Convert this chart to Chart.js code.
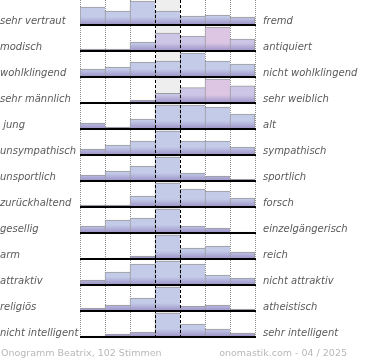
<!DOCTYPE html>
<html>
<head>
<meta charset="utf-8">
<script src="https://cdn.jsdelivr.net/npm/chart.js@4/dist/chart.umd.min.js"></script>
<style>
  html, body { margin: 0; padding: 0; background: #fff; }
</style>
</head>
<body>
<canvas id="chart" width="370" height="360"></canvas>
<script>
// scale steps 1..7 between the two poles
const steps = ['1', '2', '3', '4', '5', '6', '7'];

const leftLabels = ['sehr vertraut', 'modisch', 'wohlklingend', 'sehr männlich', ' jung', 'unsympathisch',
  'unsportlich', 'zurückhaltend', 'gesellig', 'arm', 'attraktiv', 'religiös', 'nicht intelligent'];
const rightLabels = ['fremd', 'antiquiert', 'nicht wohlklingend', 'sehr weiblich', 'alt', 'sympathisch',
  'sportlich', 'forsch', 'einzelgängerisch', 'reich', 'nicht attraktiv', 'atheistisch', 'sehr intelligent'];

// relative share of votes per step (each row is scaled to its own maximum)
const vertraut    = [18, 14, 24, 14, 9, 10, 8];
const modisch     = [2, 2, 9, 18, 15, 24, 12];
const klang       = [8, 10, 15, 16, 24, 16, 13];
const maennlich   = [0, 0, 3, 10, 16, 25, 18];
const jung        = [6, 2, 10, 24, 24, 22, 15];
const sympathisch = [6, 10, 14, 24, 14, 14, 8];
const sportlich   = [6, 10, 15, 24, 8, 5, 2];
const forsch      = [2, 2, 11, 24, 18, 16, 9];
const gesellig    = [7, 13, 15, 24, 7, 5, 1];
const reich       = [0, 1, 3, 24, 11, 13, 7];
const attraktiv   = [5, 13, 21, 24, 21, 10, 7];
const religioes   = [3, 6, 13, 24, 5, 6, 2];
const intelligent = [1, 3, 5, 24, 13, 8, 4];

const rows = [vertraut, modisch, klang, maennlich, jung, sympathisch, sportlich,
  forsch, gesellig, reich, attraktiv, religioes, intelligent];

const footLeft = 'Onogramm Beatrix, 102 Stimmen';
const footRight = 'onomastik.com - 04 / 2025';

// colours
const BLUE = '#c3cbe8';
const LAV = '#cec6e6';
const PINK = '#dcc6e4';
const tint = {
  1: {3: LAV, 4: LAV, 5: PINK, 6: LAV},
  3: {2: LAV, 3: '#c8c6e6', 4: LAV, 5: PINK, 6: LAV}
};

function barFill(ctx, row) {
  const chart = ctx.chart;
  const y = chart.scales['y' + row];
  const base = (tint[row] && tint[row][ctx.dataIndex]) || BLUE;
  if (!y || y.bottom === undefined) return base;
  const p0 = y.getPixelForValue(0);
  const g = chart.ctx.createLinearGradient(0, p0 - 8, 0, p0);
  g.addColorStop(0, base);
  g.addColorStop(1, '#9c90c6');
  return g;
}

const scales = {
  x: { type: 'category', labels: steps, display: false, offset: true }
};
rows.forEach((r, i) => {
  const top = Math.max(...r);
  const unit = top / 24;
  scales['y' + i] = {
    type: 'linear', position: 'right', stack: 'rows', stackWeight: 1,
    display: false, min: -unit, max: top + unit
  };
});

const datasets = rows.map((r, i) => ({
  data: r,
  xAxisID: 'x',
  yAxisID: 'y' + i,
  grouped: false,
  barPercentage: 1,
  categoryPercentage: 1,
  backgroundColor: ctx => barFill(ctx, i),
  borderColor: '#9b9b9b',
  borderWidth: ctx => ctx.raw > 0
    ? {top: 1, left: 1, right: ctx.dataIndex === steps.length - 1 ? 1 : 0, bottom: 0}
    : 0
}));

const rowDecor = {
  id: 'rowDecor',
  beforeDatasetsDraw(chart) {
    const {ctx, chartArea: a, scales: {x}} = chart;
    const colW = x.width / steps.length;
    const edge = i => Math.round(x.left + i * colW);
    ctx.save();
    ctx.fillStyle = '#eeeeee';
    ctx.fillRect(edge(3), a.top, edge(4) - edge(3), a.bottom - a.top);
    ctx.strokeStyle = '#8c8c8c';
    ctx.lineWidth = 1;
    ctx.setLineDash([1, 1]);
    [0, 1, 2, 5, 6, 7].forEach(i => {
      ctx.beginPath();
      ctx.moveTo(edge(i) + 0.5, a.top);
      ctx.lineTo(edge(i) + 0.5, a.bottom);
      ctx.stroke();
    });
    ctx.restore();
  },
  afterDatasetsDraw(chart) {
    const {ctx, chartArea: a, scales: {x}} = chart;
    const colW = x.width / steps.length;
    const edge = i => Math.round(x.left + i * colW);
    ctx.save();
    // dashed centre column
    ctx.strokeStyle = '#000';
    ctx.lineWidth = 1;
    ctx.setLineDash([3, 2]);
    [3, 4].forEach(i => {
      ctx.beginPath();
      ctx.moveTo(edge(i) + 0.5, a.top);
      ctx.lineTo(edge(i) + 0.5, a.bottom);
      ctx.stroke();
    });
    ctx.setLineDash([]);
    // baselines and pole labels
    ctx.font = 'italic 10px "DejaVu Sans"';
    ctx.textBaseline = 'alphabetic';
    rows.forEach((r, i) => {
      const p0 = chart.scales['y' + i].getPixelForValue(0);
      ctx.fillStyle = '#000';
      ctx.fillRect(edge(0), p0 - 1, edge(7) - edge(0) + 1, 2);
      ctx.fillStyle = '#5a5a5a';
      ctx.textAlign = 'left';
      ctx.fillText(leftLabels[i], 0, p0 - 1);
      ctx.fillText(rightLabels[i], edge(7) + 8, p0 - 1);
    });
    // footer
    ctx.font = '9.5px "DejaVu Sans"';
    ctx.fillStyle = '#b8b8b8';
    ctx.textAlign = 'left';
    ctx.fillText(footLeft, 1, 356);
    ctx.textAlign = 'right';
    ctx.fillText(footRight, 347, 356);
    ctx.restore();
  }
};

new Chart(document.getElementById('chart'), {
  type: 'bar',
  data: { labels: steps, datasets },
  options: {
    responsive: false,
    animation: false,
    devicePixelRatio: 1,
    layout: { padding: { left: 80, right: 115, top: 0, bottom: 22 } },
    scales,
    plugins: { legend: { display: false }, tooltip: { enabled: false } }
  },
  plugins: [rowDecor]
});
</script>
</body>
</html>
